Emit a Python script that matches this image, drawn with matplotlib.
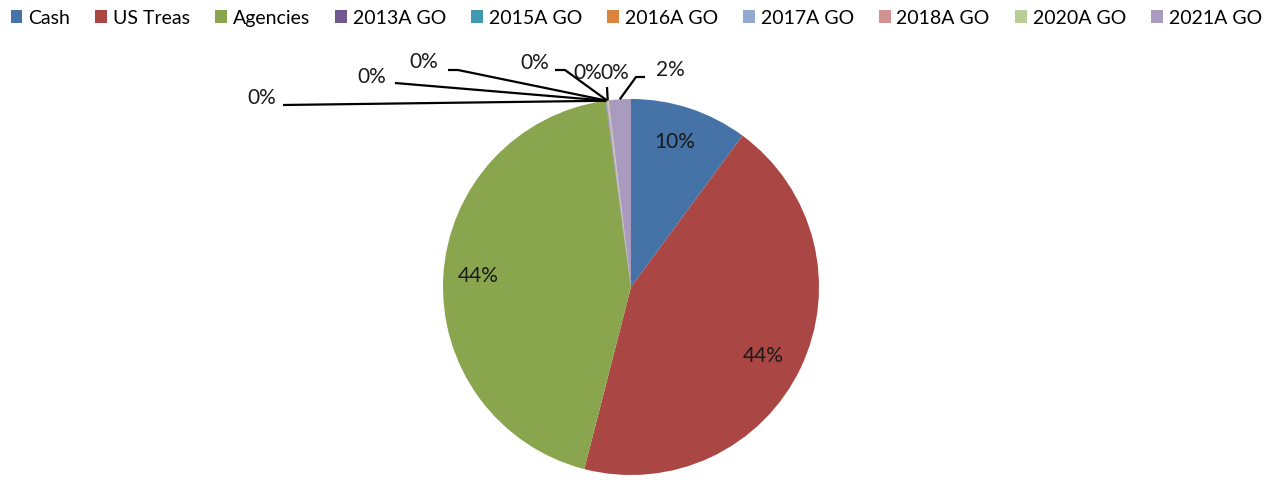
import numpy as np
import matplotlib.pyplot as plt
from matplotlib.patches import Patch

labels = ['Cash', 'US Treas', 'Agencies', '2013A GO', '2015A GO', '2016A GO',
          '2017A GO', '2018A GO', '2020A GO', '2021A GO']
values = [10.1, 43.9, 43.8, 0.05, 0.05, 0.05, 0.05, 0.05, 0.05, 1.9]
pct_text = ['10%', '44%', '44%', '0%', '0%', '0%', '0%', '0%', '0%', '2%']
colors = ['#4572A7', '#AA4643', '#89A54E', '#71588F', '#4198AF', '#DB843D',
          '#93A9CF', '#D19392', '#B9CD96', '#A99BBD']

W, H = 1280, 481
CX, CY, R = 631, 288, 188


def px(x, y):
    # image pixel -> data coords (pie radius = 1)
    return (x - CX) / R, (CY - y) / R


fig = plt.figure(figsize=(12.8, 4.81), dpi=100)
ax = fig.add_axes([0, 0, 1, 1])

wedges, _ = ax.pie(values, colors=colors, startangle=90, counterclock=False,
                   radius=1, wedgeprops=dict(linewidth=0))
ax.set_xlim(-CX / R, (W - CX) / R)
ax.set_ylim((CY - H) / R, CY / R)
ax.set_aspect('equal')
ax.axis('off')

font = 'Lato'

# labels inside the large slices
inside = {0: (675, 142), 1: (763, 356), 2: (478, 276)}
for i, (x, y) in inside.items():
    ax.text(*px(x, y), pct_text[i], ha='center', va='center', fontsize=15,
            family=font, color='#1a1a1a')

# small slices: text position + leader path (label side -> elbow)
outside = {
    3: ((262, 98), [(283, 106)]),
    4: ((372, 77), [(395, 84)]),
    5: ((424, 62), [(448, 71), (458, 71)]),
    6: ((535, 63), [(555, 71), (565, 71)]),
    7: ((588, 73), [(607, 88)]),
    8: ((615, 73), []),
    9: ((670, 70), [(645, 78), (636, 78)]),
}
for i, ((x, y), path) in outside.items():
    ax.text(*px(x, y), pct_text[i], ha='center', va='center', fontsize=15,
            family=font, color='#1a1a1a')
    if not path:
        continue
    w = wedges[i]
    mid = np.deg2rad((w.theta1 + w.theta2) / 2)
    ax_, ay_ = np.cos(mid) * 1.0, np.sin(mid) * 1.0
    pts = [px(*p) for p in path] + [(ax_, ay_)]
    xs, ys = zip(*pts)
    ax.plot(xs, ys, color='black', lw=1.6, solid_capstyle='butt')

handles = [Patch(facecolor=c, edgecolor='none') for c in colors]
fig.legend(handles, labels, loc='upper center', bbox_to_anchor=(0.497, 1.015),
           ncol=10, frameon=False, prop={'family': font, 'size': 14},
           handlelength=0.6, handleheight=0.6, handletextpad=0.3,
           columnspacing=1.3)

fig.savefig('out.png', dpi=100)
